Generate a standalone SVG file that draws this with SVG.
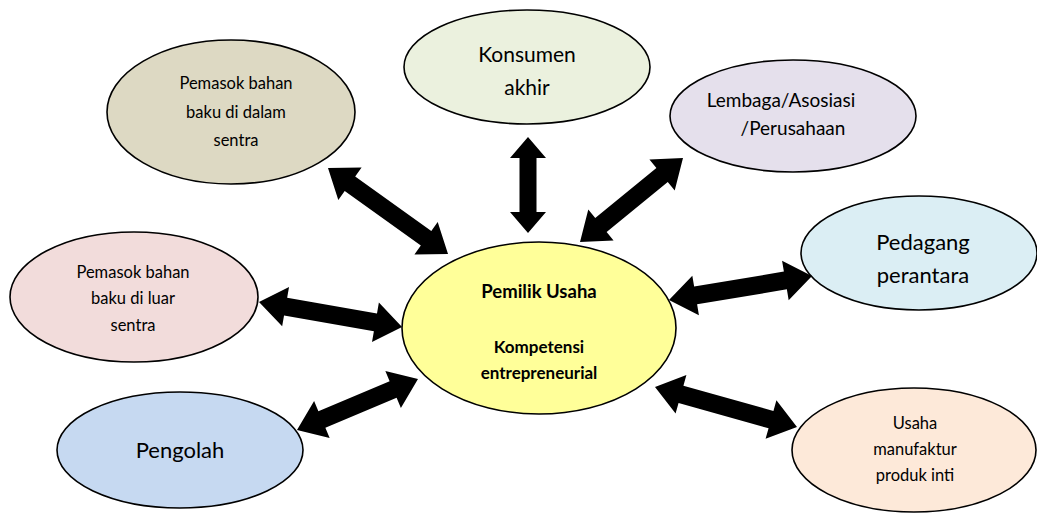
<svg xmlns="http://www.w3.org/2000/svg" width="1037" height="514" viewBox="0 0 1037 514">
<style>
.node ellipse{stroke:#000;stroke-width:1.6}
.t{font-family:Lato,"Liberation Sans",Arial,sans-serif;fill:#000;text-anchor:middle}
.b{font-weight:bold}
.arr{fill:#000}
</style>
<rect width="1037" height="514" fill="#fff"/>
<g id="node-pemasok-dalam" class="node">
<ellipse cx="231" cy="112" rx="124" ry="72" fill="#ddd9c3"/>
<text class="t" font-size="16.5" x="236" y="89">Pemasok bahan</text>
<text class="t" font-size="16.5" x="236" y="118">baku di dalam</text>
<text class="t" font-size="16.5" x="236" y="146">sentra</text>
</g>
<g id="node-konsumen" class="node">
<ellipse cx="527" cy="67" rx="123" ry="57" fill="#ebf1de"/>
<text class="t" font-size="21" x="527" y="62">Konsumen</text>
<text class="t" font-size="21" x="527" y="95">akhir</text>
</g>
<g id="node-lembaga" class="node">
<ellipse cx="793" cy="116" rx="123" ry="56" fill="#e5e0ec"/>
<text class="t" font-size="19" x="781" y="107">Lembaga/Asosiasi</text>
<text class="t" font-size="19" x="793" y="135">/Perusahaan</text>
</g>
<g id="node-pedagang" class="node">
<ellipse cx="919" cy="253" rx="118" ry="57" fill="#dbeef4"/>
<text class="t" font-size="22" x="923" y="250">Pedagang</text>
<text class="t" font-size="22" x="923" y="283">perantara</text>
</g>
<g id="node-pemasok-luar" class="node">
<ellipse cx="134" cy="297" rx="124" ry="65" fill="#f2dcdb"/>
<text class="t" font-size="16.5" x="133" y="278">Pemasok bahan</text>
<text class="t" font-size="16.5" x="133" y="304">baku di luar</text>
<text class="t" font-size="16.5" x="133" y="331">sentra</text>
</g>
<g id="node-pengolah" class="node">
<ellipse cx="180" cy="450" rx="123" ry="58" fill="#c6d9f1"/>
<text class="t" font-size="22" x="180" y="458">Pengolah</text>
</g>
<g id="node-usaha" class="node">
<ellipse cx="914" cy="450" rx="122" ry="62" fill="#fde9d9"/>
<text class="t" font-size="16.5" x="915" y="429">Usaha</text>
<text class="t" font-size="16.5" x="915" y="455">manufaktur</text>
<text class="t" font-size="16.5" x="915" y="481">produk inti</text>
</g>
<g id="node-pemilik" class="node">
<ellipse cx="539" cy="328" rx="137" ry="86" fill="#ffff99"/>
<text class="t b" font-size="18.5" x="539" y="298">Pemilik Usaha</text>
<text class="t b" font-size="17" x="539" y="353">Kompetensi</text>
<text class="t b" font-size="17" x="539" y="379">entrepreneurial</text>
</g>
<g id="connectors">
<polygon class="arr" transform="translate(328,168) rotate(35.6)" points="0,0 27,-20 27,-9 120.6,-9 120.6,-20 147.6,0 120.6,20 120.6,9 27,9 27,20"/>
<polygon class="arr" transform="translate(528,137) rotate(90)" points="0,0 21,-18 21,-8.5 75,-8.5 75,-18 96,0 75,18 75,8.5 21,8.5 21,18"/>
<polygon class="arr" transform="translate(683,158) rotate(140.8)" points="0,0 27,-20 27,-9 105.9,-9 105.9,-20 132.9,0 105.9,20 105.9,9 27,9 27,20"/>
<polygon class="arr" transform="translate(812,276) rotate(170.5)" points="0,0 27,-20 27,-9 118,-9 118,-20 145,0 118,20 118,9 27,9 27,20"/>
<polygon class="arr" transform="translate(259,302) rotate(9.9)" points="0,0 27,-20 27,-9 118.2,-9 118.2,-20 145.2,0 118.2,20 118.2,9 27,9 27,20"/>
<polygon class="arr" transform="translate(297,430) rotate(-22.85)" points="0,0 27,-20 27,-9 104.3,-9 104.3,-20 131.3,0 104.3,20 104.3,9 27,9 27,20"/>
<polygon class="arr" transform="translate(655,387) rotate(15.7)" points="0,0 27,-20 27,-9 120.5,-9 120.5,-20 147.5,0 120.5,20 120.5,9 27,9 27,20"/>
</g>
</svg>
